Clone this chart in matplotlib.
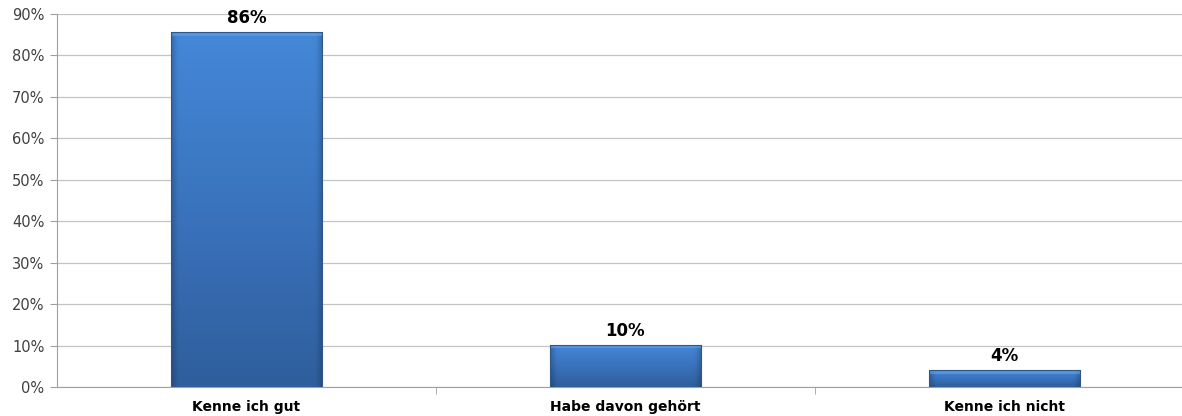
import numpy as np
import matplotlib
matplotlib.use("Agg")
import matplotlib.pyplot as plt
from matplotlib.colors import LinearSegmentedColormap
from matplotlib.ticker import FixedLocator

categories = ["Kenne ich gut", "Habe davon gehört", "Kenne ich nicht"]
values = [85.6, 10.2, 4.1]
value_labels = ["86%", "10%", "4%"]
yticks = [0, 10, 20, 30, 40, 50, 60, 70, 80, 90]
ytick_labels = ["0%", "10%", "20%", "30%", "40%", "50%", "60%", "70%", "80%", "90%"]

plt.rcParams['font.family'] = ['DejaVu Sans']

fig = plt.figure(figsize=(11.82, 4.16), dpi=100)
ax = fig.add_axes([0.0482, 0.0697, 0.9619, 0.8967])

x = np.arange(len(categories))
width = 0.4
bars = ax.bar(x, values, width=width, color="none", edgecolor="#2f5688", linewidth=0.8, zorder=3)

# gradient fill
cmap_v = LinearSegmentedColormap.from_list("v", ["#2f5e9c", "#3a73bd", "#4488d8"])
for b in bars:
    x0, y0 = b.get_x(), b.get_y()
    w, h = b.get_width(), b.get_height()
    ny, nx = 200, 60
    yy = np.linspace(0, 1, ny)[:, None]
    xx = np.linspace(0, 1, nx)[None, :]
    base = cmap_v(np.repeat(yy, nx, axis=1))
    edge = np.clip(np.minimum(xx, 1 - xx) / 0.04, 0, 1)
    shade = 0.82 + 0.18 * edge
    img = base.copy()
    img[..., :3] = img[..., :3] * shade[..., None]
    im = ax.imshow(img, extent=(x0, x0 + w, y0, y0 + h), origin="lower",
                   aspect="auto", zorder=2.5, interpolation="bilinear")
    im.set_clip_path(b)
    top = min(0.9, h * 0.3)
    ax.fill_between([x0, x0 + w], y0 + h - top, y0 + h, color="#6aa4e6", alpha=0.55, zorder=2.6, linewidth=0)

for xi, v, lab in zip(x, values, value_labels):
    ax.text(xi, v + 1.2, lab, ha="center", va="bottom", fontsize=12, fontweight="bold", color="#000000", zorder=4)

ax.set_xlim(-0.5, 2.5)
ax.set_ylim(0, 90)
ax.set_yticks(yticks)
ax.set_yticklabels(ytick_labels, fontsize=10.5, color="#404040")
ax.yaxis.grid(True, color="#c4c4c4", linewidth=0.9, zorder=0)
ax.set_axisbelow(True)

ax.set_xticks(x)
ax.set_xticklabels(categories, fontsize=10, fontweight="bold", color="#000000")
ax.tick_params(axis="x", which="major", length=0, pad=9)
ax.xaxis.set_minor_locator(FixedLocator([0.5, 1.5, 2.5]))
ax.tick_params(axis="x", which="minor", length=5, color="#a0a0a0", direction="out")
ax.tick_params(axis="y", length=5, color="#a0a0a0", pad=4)

for s in ["top", "right"]:
    ax.spines[s].set_visible(False)
ax.spines["left"].set_color("#a0a0a0")
ax.spines["bottom"].set_color("#a0a0a0")

fig.savefig("out.png", dpi=100)
